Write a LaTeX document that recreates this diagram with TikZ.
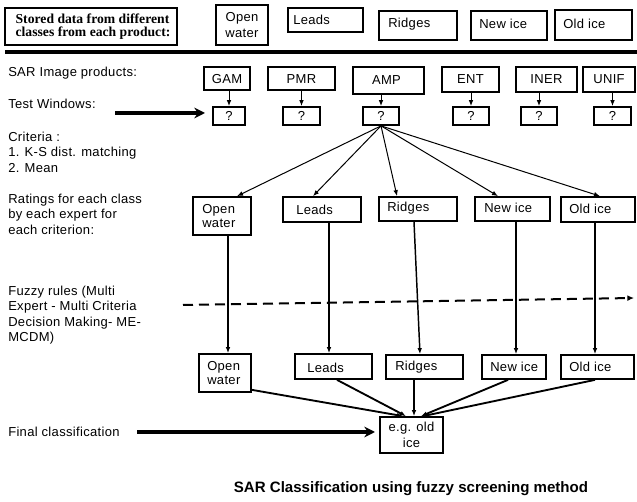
\documentclass[tikz,border=0pt]{standalone}
\usepackage{fontspec}
\setmainfont{Liberation Sans}[LetterSpace=2.5]
\newfontfamily\serifb{Liberation Serif}
\newfontfamily\titlefont{Liberation Sans}
\usetikzlibrary{arrows.meta,fit}
\begin{document}
\begin{tikzpicture}[x=0.75pt,y=-0.75pt,
  box/.style={draw, line width=1.3pt, inner sep=0pt},
  txt/.style={inner sep=0pt, font=\fontsize{9.75}{11}\selectfont, align=left},
  ctxt/.style={inner sep=0pt, font=\fontsize{9.75}{11.5}\selectfont, align=center},
  side/.style={inner sep=0pt, anchor=west, font=\fontsize{9.75}{11.6}\selectfont, align=left},
  thinarr/.style={line width=0.75pt, -{Latex[length=4.5pt,width=3.5pt]}},
  midarr/.style={line width=1.1pt, -{Latex[length=4.5pt,width=3.5pt]}},
  convarr/.style={line width=1.4pt, -{Latex[length=4.5pt,width=3.5pt]}},
  bigarr/.style={line width=2.5pt, -{Stealth[length=8pt,width=8pt]}},
  dasharr/.style={line width=1.5pt, dash pattern=on 7.5pt off 4.5pt, -{Latex[length=5pt,width=4.5pt]}}]
\useasboundingbox (0,0) rectangle (637,502);

% top row
\node[box, line width=1.7pt, fit={(5,8) (177,45)}] (stored) {};
\node[inner sep=0pt, font=\serifb\bfseries\fontsize{10.25}{10}\selectfont, align=left] (storedt) at ([xshift=1.5pt]stored.center) {Stored data from different\\classes from each product:};
\node[box, fit={(216,5) (268,45)}] (t1) {};
\node[ctxt] (t1t) at (t1.center) {Open\\water};
\node[box, fit={(288,8) (363,32)}] (t2) {};
\node[txt, anchor=west] (t2t) at (293,20) {Leads};
\node[box, fit={(379,11) (457,40)}] (t3) {};
\node[txt, anchor=west] (t3t) at (388,24) {Ridges};
\node[box, fit={(471,11) (547,40)}] (t4) {};
\node[txt, anchor=west] (t4t) at (479,24) {New ice};
\node[box, fit={(555,10) (632,40)}] (t5) {};
\node[txt, anchor=west] (t5t) at (563,24) {Old ice};
\coordinate (hl1) at (5,52);
\coordinate (hl2) at (637,52);
\draw[line width=3.2pt] (hl1) -- (hl2);

% side labels
\node[side] (lsar) at (8,73) {SAR Image products:};
\node[side] (ltw) at (8,104) {Test Windows:};
\node[side] (lcrit) at (8,152) {Criteria :\\1. K-S dist. matching\\2. Mean};
\node[side] (lrat) at (8,214) {Ratings for each class\\by each expert for\\each criterion:};
\node[side] (lfz) at (8,315) {Fuzzy rules (Multi\\Expert - Multi Criteria\\Decision Making- ME-\\MCDM)};
\node[side] (lfin) at (8,432) {Final classification};

% products
\node[box, fit={(204,67) (250,90)}] (p1) {};
\node[box, fit={(268,67) (335,90)}] (p2) {};
\node[box, fit={(353,67) (424,94)}] (p3) {};
\node[box, fit={(442,67) (499,92)}] (p4) {};
\node[box, fit={(516,67) (577,92)}] (p5) {};
\node[box, fit={(583,67) (635,92)}] (p6) {};
\node[ctxt] (p1t) at ([yshift=-0.5pt]p1.center) {GAM};
\node[ctxt] (p2t) at ([yshift=-0.5pt]p2.center) {PMR};
\node[ctxt] (p3t) at ([xshift=-1.5pt,yshift=0.5pt]p3.center) {AMP};
\node[ctxt] (p4t) at (p4.center) {ENT};
\node[ctxt] (p5t) at (p5.center) {INER};
\node[ctxt] (p6t) at (p6.center) {UNIF};

% test windows
\node[box, fit={(213,107) (245,125)}] (q1) {};
\node[box, fit={(283,107) (320,125)}] (q2) {};
\node[box, fit={(363,107) (399,125)}] (q3) {};
\node[box, fit={(453,107) (489,125)}] (q4) {};
\node[box, fit={(521,107) (557,125)}] (q5) {};
\node[box, fit={(594,107) (631,125)}] (q6) {};
\foreach \i in {1,...,6}{
  \node[ctxt] (q\i t) at (q\i.center) {?};
  \draw[thinarr] (q\i.north |- p\i.south) -- (q\i.north);
}
\coordinate (tws) at (115,113);
\coordinate (twe) at (205,113);
\draw[bigarr] (tws) -- (twe);

% ratings row
\node[box, fit={(193,197) (251,235)}] (c1) {};
\node[txt, anchor=west] (c1t) at (202,216) {Open\\water};
\node[box, fit={(283,197) (361,222)}] (c2) {};
\node[txt, anchor=west] (c2t) at (296,210) {Leads};
\node[box, fit={(379,197) (457,221)}] (c3) {};
\node[txt, anchor=west] (c3t) at (387,208) {Ridges};
\node[box, fit={(475,197) (550,221)}] (c4) {};
\node[txt, anchor=west] (c4t) at (484,208) {New ice};
\node[box, fit={(561,197) (635,222)}] (c5) {};
\node[txt, anchor=west] (c5t) at (569,209) {Old ice};

\draw[thinarr] (q3.south) -- ([xshift=11.25pt]c1.north);
\draw[thinarr] (q3.south) -- ([xshift=-6.75pt]c2.north);
\draw[thinarr] (q3.south) -- ([xshift=-15.75pt]c3.north);
\draw[thinarr] (q3.south) -- ([xshift=-10.875pt]c4.north);
\draw[thinarr] (q3.south) -- ([xshift=1.5pt]c5.north);

% dashed line
\coordinate (ds) at (183,305);
\coordinate (de) at (634,298);
\draw[dasharr] (ds) -- (de);

% fuzzy output row
\node[box, fit={(199,354) (251,392)}] (b1) {};
\node[txt, anchor=west] (b1t) at (207,373) {Open\\water};
\node[box, fit={(295,354) (372,379)}] (b2) {};
\node[txt, anchor=west] (b2t) at (307,368) {Leads};
\node[box, fit={(386,355) (463,379)}] (b3) {};
\node[txt, anchor=west] (b3t) at (395,367) {Ridges};
\node[box, fit={(482,355) (546,379)}] (b4) {};
\node[txt, anchor=west] (b4t) at (490,367) {New ice};
\node[box, fit={(561,355) (634,379)}] (b5) {};
\node[txt, anchor=west] (b5t) at (569,367) {Old ice};

\draw[midarr] ([xshift=4.5pt]c1.south) -- ([xshift=2.25pt]b1.north);
\draw[midarr] ([xshift=5.25pt]c2.south) -- ([xshift=-3.375pt]b2.north);
\draw[midarr] ([xshift=-3pt]c3.south) -- ([xshift=-3.375pt]b3.north);
\draw[midarr] ([xshift=2.625pt]c4.south) -- ([xshift=1.5pt]b4.north);
\draw[midarr] ([xshift=-2.25pt]c5.south) -- ([xshift=-1.875pt]b5.north);

% final
\node[box, fit={(380,417) (443,453)}] (f) {};
\node[ctxt] (ft) at (f.center) {e.g. old\\ice};
\draw[convarr] ([yshift=2.25pt]b1.south east) -- ([xshift=-6.375pt]f.north);
\draw[convarr] ([xshift=2.625pt]b2.south) -- ([xshift=-4.125pt]f.north);
\draw[convarr] ([xshift=-7.875pt]b3.south) -- ([xshift=1.875pt]f.north);
\draw[convarr] ([xshift=-4.5pt]b4.south) -- ([xshift=7.125pt]f.north);
\draw[convarr] ([xshift=-1.875pt]b5.south) -- ([xshift=8.625pt]f.north);

\coordinate (fs) at (137,432);
\coordinate (fe) at (375,432);
\draw[bigarr] (fs) -- (fe);

% title
\node[inner sep=0pt, font=\titlefont\bfseries\fontsize{11.3}{13}\selectfont] (title) at (411,489) {SAR Classification using fuzzy screening method};
\end{tikzpicture}
\end{document}
